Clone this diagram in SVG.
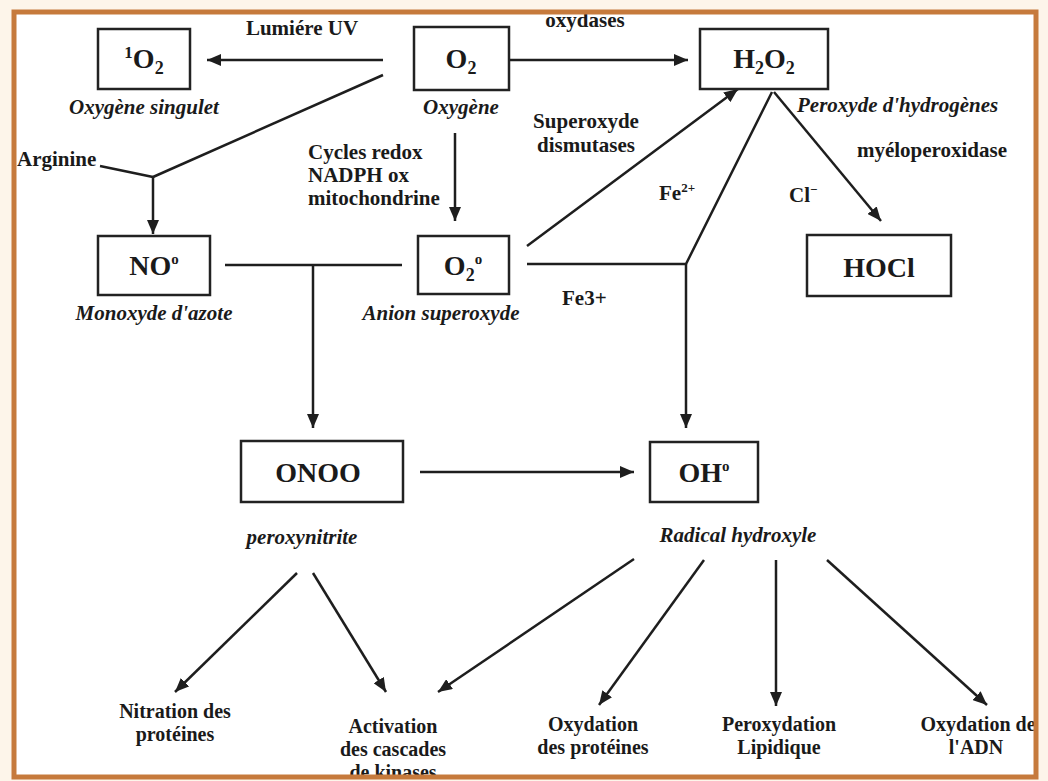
<svg xmlns="http://www.w3.org/2000/svg" width="1048" height="781" viewBox="0 0 1048 781">
<style>
text{font-family:"Liberation Serif","Times New Roman",serif;font-weight:bold;fill:#1a1a1a}
.n{font-size:28px}
.l{font-size:21px}
.b{font-size:20px}
.i{font-size:21px;font-style:italic}
.c{text-anchor:middle}
.box{fill:#fff;stroke:#222;stroke-width:2.5}
.e{fill:none;stroke:#1e1e1e;stroke-width:2.5}
.a{marker-end:url(#ah)}
</style>
<defs>
<marker id="ah" markerUnits="userSpaceOnUse" viewBox="0 0 14 12" refX="14" refY="6" markerWidth="14" markerHeight="12" orient="auto">
<path d="M0,0 L14,6 L0,12 z" fill="#1e1e1e"/>
</marker>
</defs>
<rect x="0" y="0" width="1048" height="781" fill="#fdf5ea"/>
<rect x="14" y="12" width="1022" height="765" fill="#ffffff"/>

<g id="connectors">
<line class="e a" x1="383" y1="60" x2="207" y2="60"/>
<line class="e a" x1="509" y1="60" x2="688" y2="60"/>
<polyline class="e" points="383,75 153,177"/>
<polyline class="e" points="100,166 153,177"/>
<line class="e a" x1="153" y1="177" x2="153" y2="234"/>
<line class="e a" x1="455" y1="133" x2="455" y2="221"/>
<line class="e a" x1="527" y1="246" x2="738" y2="89"/>
<polyline class="e" points="772,92 686,264 527,264"/>
<line class="e a" x1="686" y1="264" x2="686" y2="428"/>
<line class="e a" x1="774" y1="92" x2="881" y2="221"/>
<line class="e" x1="225" y1="265" x2="402" y2="265"/>
<line class="e a" x1="313" y1="265" x2="313" y2="428"/>
<line class="e a" x1="420" y1="472" x2="634" y2="472"/>
<line class="e a" x1="297" y1="573" x2="175" y2="692"/>
<line class="e a" x1="313" y1="573" x2="386" y2="692"/>
<line class="e a" x1="634" y1="559" x2="438" y2="692"/>
<line class="e a" x1="704" y1="560" x2="599" y2="705"/>
<line class="e a" x1="776" y1="560" x2="776" y2="706"/>
<line class="e a" x1="827" y1="560" x2="987" y2="705"/>
</g>

<g id="edge-labels">
<text class="l c" x="302" y="35">Lumiére UV</text>
<text class="l c" x="585" y="27">oxydases</text>
<text class="l c" x="586" y="128">Superoxyde</text>
<text class="l c" x="586" y="152">dismutases</text>
<text class="l c" x="932" y="157">myéloperoxidase</text>
<text class="l" x="659" y="200">Fe<tspan font-size="13" dy="-8">2+</tspan></text>
<text class="l" x="789" y="202">Cl<tspan font-size="13" dy="-8">−</tspan></text>
<text class="l" x="17" y="166">Arginine</text>
<text class="l" x="308" y="159">Cycles redox</text>
<text class="l" x="308" y="182">NADPH ox</text>
<text class="l" x="308" y="205">mitochondrine</text>
<text class="l" x="562" y="305">Fe3+</text>
</g>

<g id="n-1O2">
<rect class="box" x="98" y="29" width="92" height="60"/>
<text class="n c" x="144" y="68"><tspan font-size="17" dy="-10">1</tspan><tspan dy="10">O</tspan><tspan font-size="18" dy="6">2</tspan></text>
<text class="i c" x="144" y="114">Oxygène singulet</text>
</g>
<g id="n-O2">
<rect class="box" x="414" y="27" width="95" height="63"/>
<text class="n c" x="461" y="68">O<tspan font-size="18" dy="6">2</tspan></text>
<text class="i c" x="461" y="114">Oxygène</text>
</g>
<g id="n-H2O2">
<rect class="box" x="700" y="29" width="128" height="60"/>
<text class="n c" x="764" y="68">H<tspan font-size="18" dy="6">2</tspan><tspan dy="-6">O</tspan><tspan font-size="18" dy="6">2</tspan></text>
<text class="i" x="797" y="112">Peroxyde d'hydrogènes</text>
</g>
<g id="n-NO">
<rect class="box" x="98" y="236" width="112" height="59"/>
<text class="n c" x="154" y="275">NO<tspan font-size="15" dy="-11">o</tspan></text>
<text class="i c" x="154" y="320">Monoxyde d'azote</text>
</g>
<g id="n-O2rad">
<rect class="box" x="418" y="236" width="91" height="58"/>
<text class="n c" x="463" y="275">O<tspan font-size="18" dy="6">2</tspan><tspan font-size="15" dy="-17">o</tspan></text>
<text class="i c" x="441" y="320">Anion superoxyde</text>
</g>
<g id="n-HOCl">
<rect class="box" x="807" y="235" width="144" height="61"/>
<text class="n c" x="879" y="277">HOCl</text>
</g>
<g id="n-ONOO">
<rect class="box" x="241" y="441" width="162" height="61"/>
<text class="n c" x="318" y="482">ONOO</text>
<text class="i c" x="302" y="544">peroxynitrite</text>
</g>
<g id="n-OH">
<rect class="box" x="650" y="442" width="108" height="60"/>
<text class="n c" x="704" y="482">OH<tspan font-size="15" dy="-11">o</tspan></text>
<text class="i c" x="738" y="542">Radical hydroxyle</text>
</g>

<g id="n-nitration">
<text class="b c" x="175" y="718">Nitration des</text>
<text class="b c" x="175" y="741">protéines</text>
</g>
<g id="n-activation">
<text class="b c" x="393" y="733">Activation</text>
<text class="b c" x="393" y="756">des cascades</text>
<text class="b c" x="393" y="779">de kinases</text>
</g>
<g id="n-oxprot">
<text class="b c" x="593" y="731">Oxydation</text>
<text class="b c" x="593" y="754">des protéines</text>
</g>
<g id="n-perox">
<text class="b c" x="779" y="731">Peroxydation</text>
<text class="b c" x="779" y="754">Lipidique</text>
</g>
<g id="n-adn">
<text class="b c" x="978" y="731">Oxydation de</text>
<text class="b c" x="976" y="754">l'ADN</text>
</g>

<rect x="14" y="12" width="1022" height="765" fill="none" stroke="#c67a3c" stroke-width="5"/>
</svg>
